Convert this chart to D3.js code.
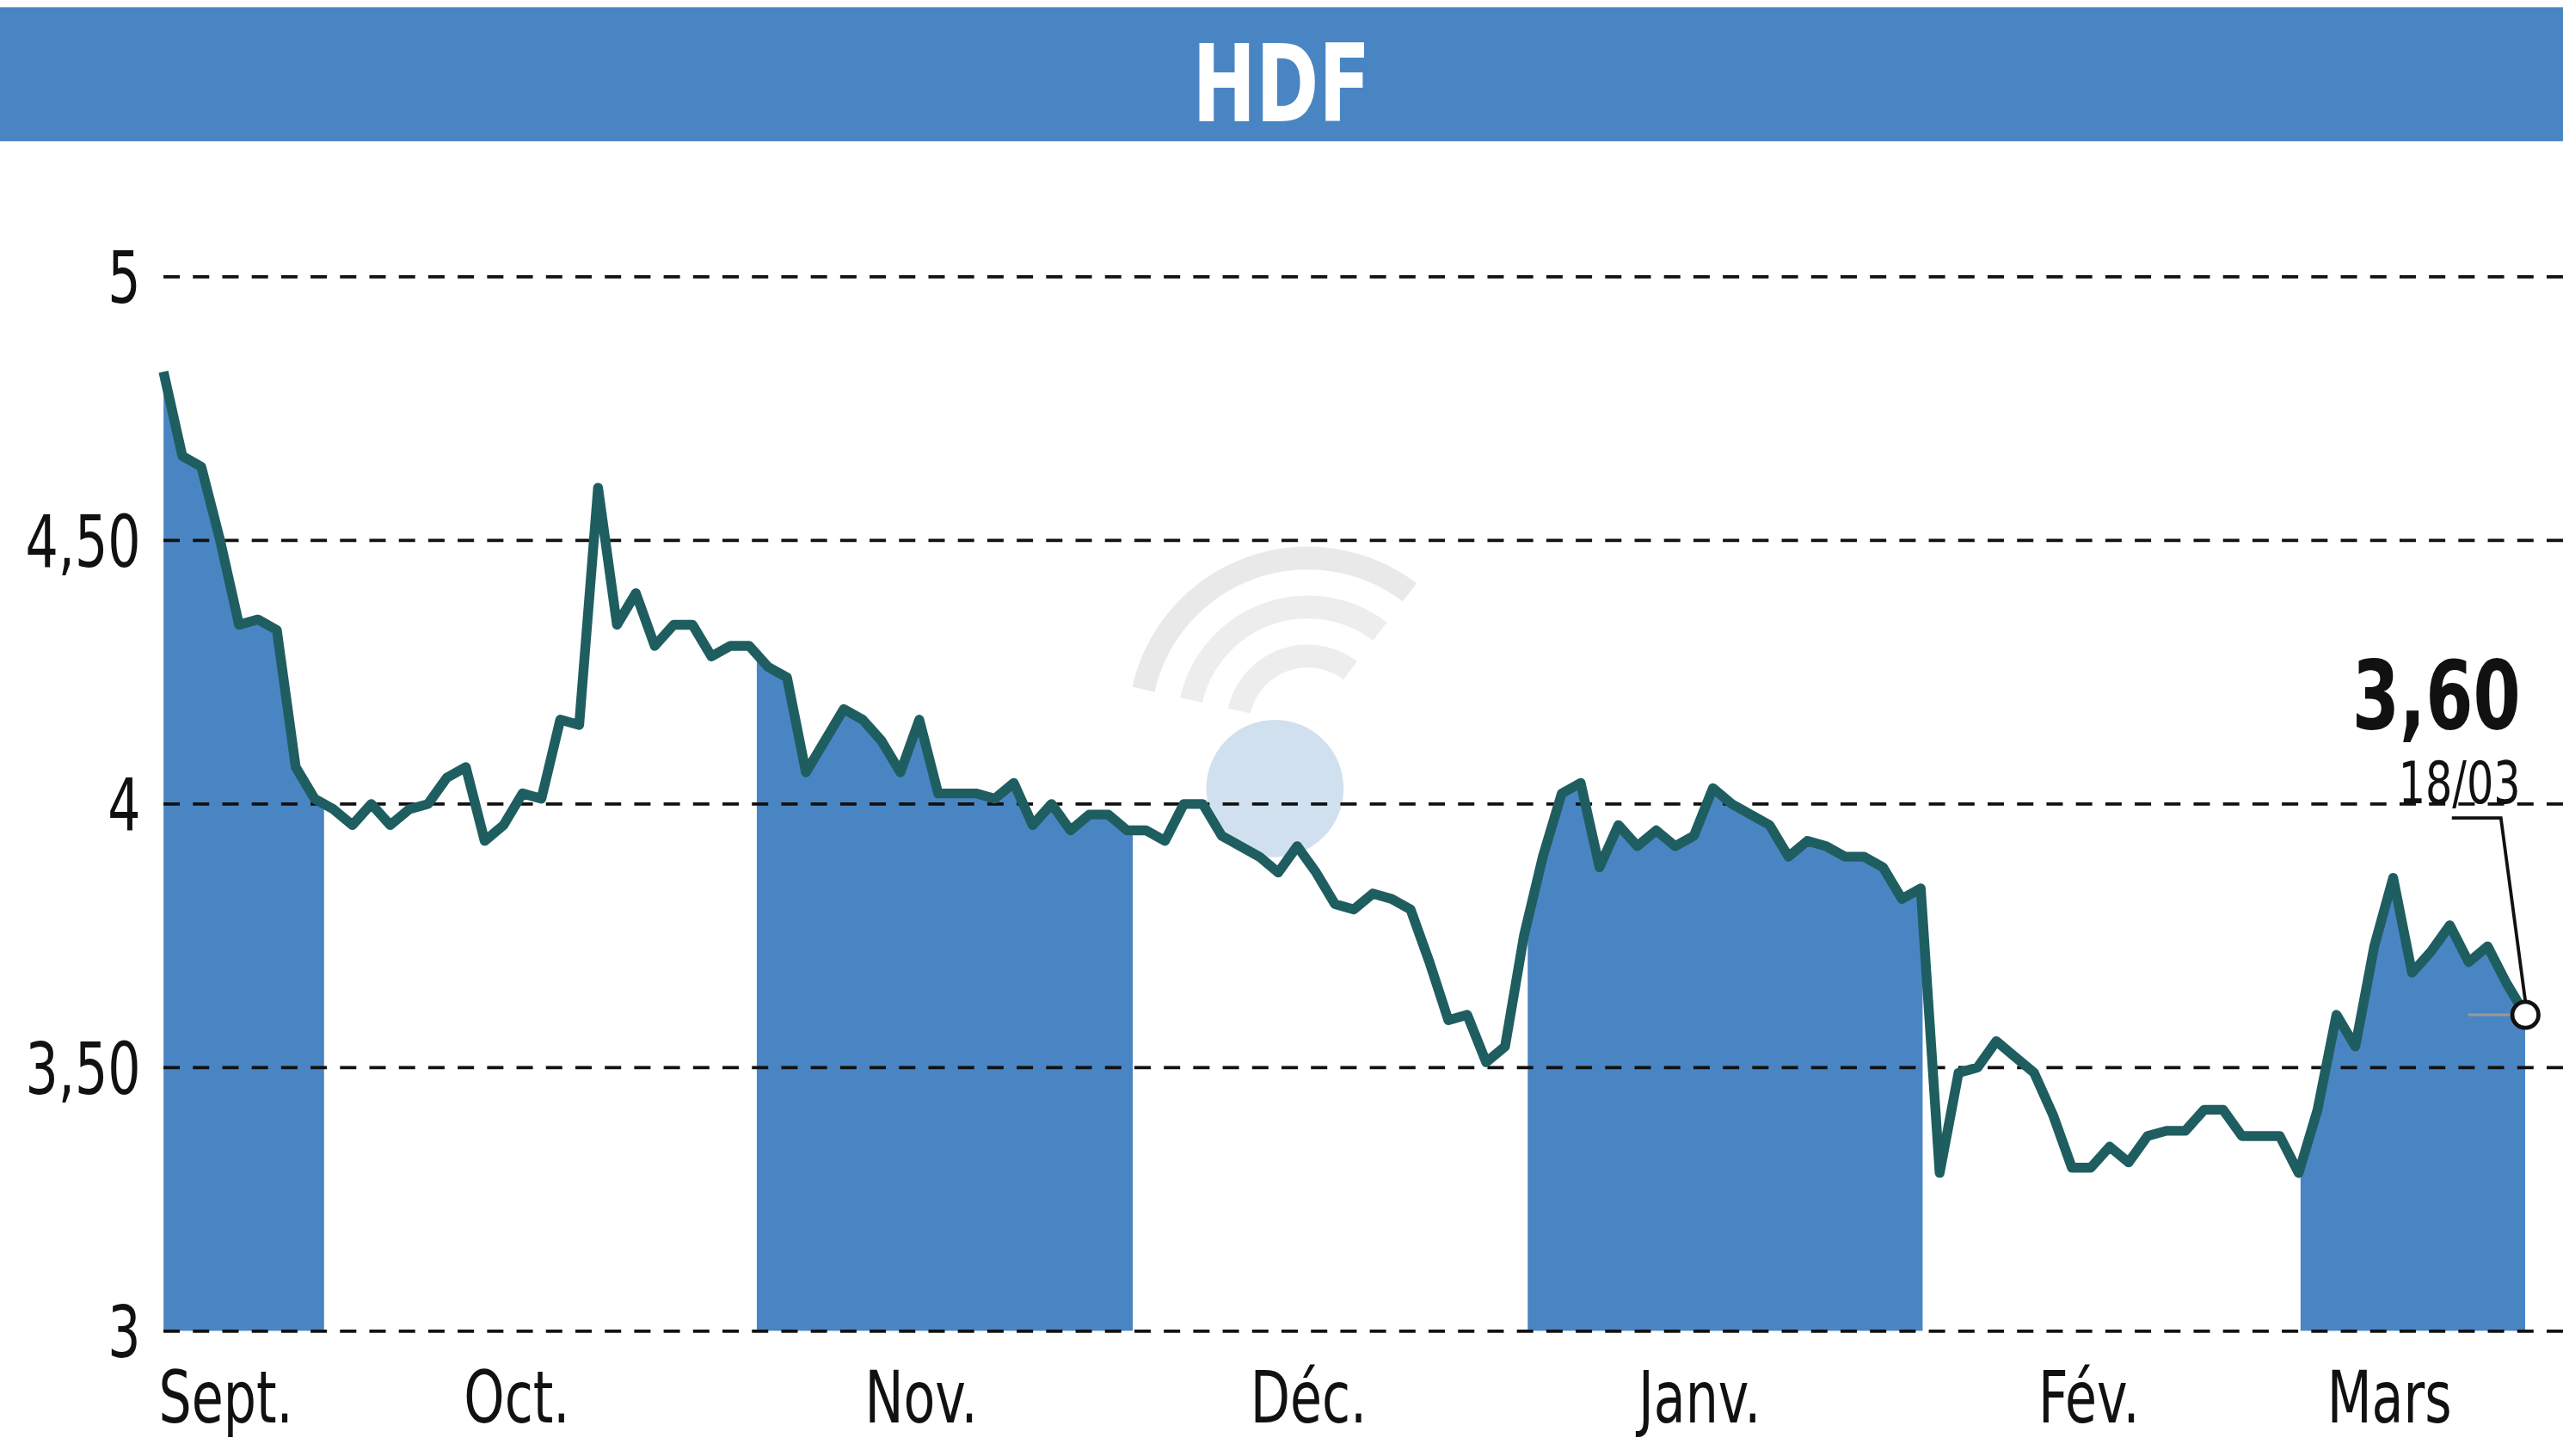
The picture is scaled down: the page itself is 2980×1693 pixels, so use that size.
<!DOCTYPE html>
<html><head><meta charset="utf-8">
<script src="https://cdn.jsdelivr.net/npm/d3@7"></script>
<style>body{margin:0;background:#fff}svg{display:block}</style>
</head><body><div id="chart"></div>
<script>
// Data (one point per trading session)
const prices = [4.82,4.66,4.64,4.50,4.34,4.35,4.33,4.07,4.01,3.99,3.96,4.00,3.96,3.99,4.00,4.05,4.07,3.93,3.96,4.02,
4.01,4.16,4.15,4.60,4.34,4.40,4.30,4.34,4.34,4.28,4.30,4.30,4.26,4.24,4.06,4.12,4.18,4.16,4.12,4.06,
4.16,4.02,4.02,4.02,4.01,4.04,3.96,4.00,3.95,3.98,3.98,3.95,3.95,3.93,4.00,4.00,3.94,3.92,3.90,3.87,
3.92,3.87,3.81,3.80,3.83,3.82,3.80,3.70,3.59,3.60,3.51,3.54,3.75,3.90,4.02,4.04,3.88,3.96,3.92,3.95,
3.92,3.94,4.03,4.00,3.98,3.96,3.90,3.93,3.92,3.90,3.90,3.88,3.82,3.84,3.30,3.49,3.50,3.55,3.52,3.49,
3.41,3.31,3.31,3.35,3.32,3.37,3.38,3.38,3.42,3.42,3.37,3.37,3.37,3.30,3.42,3.60,3.54,3.73,3.86,3.68,
3.72,3.77,3.70,3.73,3.66,3.60];
const months = ["Sept.","Oct.","Nov.","Déc.","Janv.","Fév.","Mars"];
const monthPos = [3.3,18.7,40.1,60.6,81.3,101.9,117.8];
const bands = [[0,8.5],[31.4,51.3],[72.2,93.1],[113.1,prices.length-1]];
const yTicks = [3,3.5,4,4.5,5];
const lastLabel = "3,60", lastDate = "18/03";

const W = 1568, H = 882;
const font = "'DejaVu Sans Condensed','DejaVu Sans',sans-serif";
const svg = d3.select("#chart").append("svg")
  .attr("width", 2980).attr("height", 1693)
  .attr("viewBox", "0 0 " + W + " " + H);

const x = d3.scaleLinear().domain([0, prices.length - 1]).range([100, 1545]);
const y = d3.scaleLinear().domain([3, 5]).range([810, 165]);

// narrow text helper: squeeze horizontally to look condensed
function label(px, py, str, size, anchor, bold, sx, fill) {
  svg.append("text")
    .attr("transform", "translate(" + px + "," + py + ") scale(" + (sx || 0.8) + ",1)")
    .attr("text-anchor", anchor).attr("font-family", font)
    .attr("font-weight", bold ? "bold" : "normal").attr("font-size", size)
    .attr("fill", fill || "#111").text(str);
}

// header
svg.append("rect").attr("width", W).attr("height", 82).attr("fill", "#4a85c3");
label(W/2, 70, "HDF", 66, "middle", true, 0.78, "#fff");

// watermark
const wm = svg.append("g").attr("opacity", 0.25);
[[110,"#aaa"],[80,"#bbb"],[50,"#bbb"]].forEach(function(a){
  wm.append("path").attr("d", d3.arc()({innerRadius:a[0]-14, outerRadius:a[0], startAngle:-1.0, endAngle:1.0}))
    .attr("transform","translate(800,440) rotate(-20)").attr("fill", a[1]);
});
wm.append("circle").attr("cx", 780).attr("cy", 478).attr("r", 42).attr("fill", "#4a85c3");

// shaded bands
const clip = svg.append("clipPath").attr("id", "bands");
bands.forEach(function(b){
  clip.append("rect").attr("x", x(b[0])).attr("y", 0)
    .attr("width", x(b[1]) - x(b[0])).attr("height", 810);
});
svg.append("path").datum(prices).attr("clip-path", "url(#bands)")
  .attr("fill", "#4a85c3")
  .attr("d", d3.area().x((d,i)=>x(i)).y0(810).y1(d=>y(d)));

// grid
svg.selectAll(".grid").data(yTicks).enter().append("line")
  .attr("x1", 100).attr("x2", W).attr("y1", d=>y(d)).attr("y2", d=>y(d))
  .attr("stroke", "#111").attr("stroke-width", 2).attr("stroke-dasharray", "10,8");

yTicks.forEach(function(d){
  label(86, y(d) + 16, d % 1 === 0 ? String(d) : d3.format(".2f")(d).replace(".", ","), 44, "end");
});
months.forEach(function(m, i){
  label(x(monthPos[i]), 866, m, 44, "middle");
});

// price line
svg.append("path").datum(prices).attr("fill", "none")
  .attr("stroke", "#1f5e60").attr("stroke-width", 6).attr("stroke-linejoin", "round")
  .attr("d", d3.line().x((d,i)=>x(i)).y(d=>y(d)));

// last value annotation
const lx = x(prices.length - 1), ly = y(prices[prices.length - 1]);
svg.append("line").attr("x1", lx - 35).attr("x2", lx).attr("y1", ly).attr("y2", ly)
  .attr("stroke", "#999").attr("stroke-width", 1.5);
svg.append("path").attr("d", "M" + (lx-45) + ",496H" + (lx-15) + "L" + lx + "," + (ly-8))
  .attr("fill", "none").attr("stroke", "#111").attr("stroke-width", 2);
svg.append("circle").attr("cx", lx).attr("cy", ly).attr("r", 8)
  .attr("fill", "#fff").attr("stroke", "#111").attr("stroke-width", 2.5);
label(1542, 441, lastLabel, 58, "end", true);
label(1542, 487, lastDate, 36, "end");
</script></body></html>
